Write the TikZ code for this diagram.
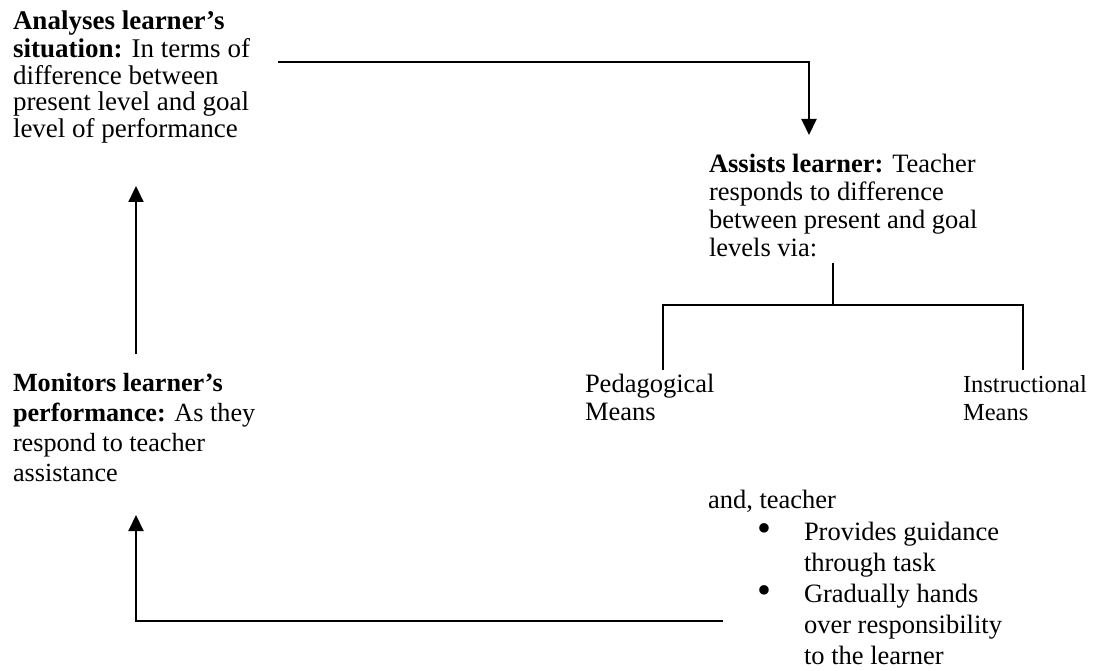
\documentclass[tikz,border=0pt]{standalone}
\usepackage{fontspec}
\setmainfont{Liberation Serif}
\usetikzlibrary{arrows.meta,calc}
\tikzset{
  txt/.style={inner sep=0pt, outer sep=0pt, anchor=base west, align=left},
  conn/.style={line width=2pt},
  arr/.style={conn, -{Triangle[width=15pt,length=16pt]}}
}
\newcommand{\fsA}{\fontsize{27}{26.8}\selectfont}
\newcommand{\fsB}{\fontsize{26.5}{28}\selectfont}
\newcommand{\fsI}{\fontsize{24.5}{28}\selectfont}
\newcommand{\fsC}{\fontsize{26.2}{30.3}\selectfont}
\newcommand{\fsD}{\fontsize{26.5}{31}\selectfont}
\newcommand{\bul}{\makebox[47pt][l]{\raisebox{-1.5pt}{\scalebox{1.5}{\textbullet}}}}
\begin{document}
\begin{tikzpicture}[x=1pt,y=-1pt]
\useasboundingbox (0,0) rectangle (1095,671);

\node[txt,font=\fsA] (ana) at (13,30) {\begin{tabular}[t]{@{}l@{}}
\textbf{Analyses learner’s}\\
\textbf{situation:} In terms of\\
difference between\\
present level and goal\\
level of performance\end{tabular}};

\node[txt,font=\fsB] (ass) at (709,173) {\begin{tabular}[t]{@{}l@{}}
\textbf{Assists learner:} Teacher\\
responds to difference\\
between present and goal\\
levels via:\end{tabular}};

\node[txt,font=\fsB] (ped) at (585,392) {\begin{tabular}[t]{@{}l@{}}
Pedagogical\\
Means\end{tabular}};

\node[txt,font=\fsI] (ins) at (963,392) {\begin{tabular}[t]{@{}l@{}}
Instructional\\
Means\end{tabular}};

\node[txt,font=\fsC] (mon) at (13,391) {\begin{tabular}[t]{@{}l@{}}
\textbf{Monitors learner’s}\\
\textbf{performance:} As they\\
respond to teacher\\
assistance\end{tabular}};

\node[txt,font=\fsD] (and) at (708,508) {and, teacher};

\node[txt,font=\fsD] (list) at (757,540) {\begin{tabular}[t]{@{}l@{}l@{}}
\bul & Provides guidance\\
 & through task\\
\bul & Gradually hands\\
 & over responsibility\\
 & to the learner\end{tabular}};

% top connector
\coordinate (tstart) at (278,62);
\draw[arr] (tstart) -| ($(ass.base west)+(100,-38)$);

% split
\coordinate (split) at (833,305);
\draw[conn] ($(ass.base west)+(124,90)$) -- (split);
\draw[conn] ($(ped.base west)+(78,-22)$) |- (split) -| ($(ins.base west)+(60,-22)$);

% left arrow
\draw[arr] ($(mon.base west)+(123,-37)$) -- ($(ana.base west)+(123,156)$);

% bottom connector
\coordinate (bend) at (723,621);
\draw[arr] (bend) -| ($(mon.base west)+(123,124)$);
\end{tikzpicture}
\end{document}
